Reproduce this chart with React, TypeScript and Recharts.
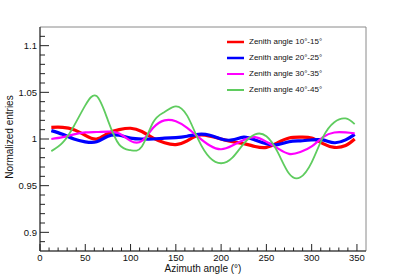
import React from 'react';
import { ComposedChart, Line, XAxis, YAxis, ReferenceArea } from 'recharts';

const azimuth = [12.5, 25, 37.5, 50, 62.5, 75, 87.5, 100, 112.5, 125, 137.5, 150, 162.5, 175, 187.5, 200, 212.5, 225, 237.5, 250, 262.5, 275, 287.5, 300, 312.5, 325, 337.5, 347.5];
const zen10 = [1.0125, 1.0125, 1.010, 1.004, 1.000, 1.006, 1.010, 1.0115, 1.008, 1.001, 0.996, 0.994, 0.998, 1.004, 1.003, 1.0, 0.997, 0.995, 0.992, 0.991, 0.996, 1.001, 1.002, 1.001, 0.995, 0.991, 0.993, 1.0];
const zen20 = [1.009, 1.005, 1.0, 0.997, 0.997, 1.003, 1.004, 1.001, 1.0, 1.0, 1.001, 1.0015, 1.003, 1.005, 1.004, 1.0, 0.999, 1.002, 0.999, 0.995, 0.994, 0.997, 0.998, 0.999, 0.999, 0.996, 0.999, 1.005];
const zen30 = [1.0, 1.002, 1.005, 1.007, 1.0075, 1.008, 1.006, 0.998, 0.998, 1.012, 1.020, 1.019, 1.012, 1.002, 0.993, 0.989, 0.993, 0.999, 1.002, 0.997, 0.990, 0.984, 0.986, 0.992, 1.002, 1.007, 1.007, 1.006];
const zen40 = [0.987, 0.996, 1.014, 1.036, 1.046, 1.020, 0.994, 0.988, 0.992, 1.018, 1.029, 1.035, 1.025, 0.999, 0.980, 0.974, 0.980, 0.995, 1.005, 1.003, 0.986, 0.963, 0.959, 0.975, 1.002, 1.018, 1.022, 1.016];

const seriesNames = ['Zenith angle 10°-15°', 'Zenith angle 20°-25°', 'Zenith angle 30°-35°', 'Zenith angle 40°-45°'];
const seriesColors = ['#ff0000', '#0000ff', '#ff00ff', '#5fcc5f'];
const seriesWidths = [3.2, 3.2, 2.2, 1.8];

const xTicks = [0, 10, 20, 30, 40, 50, 60, 70, 80, 90, 100, 110, 120, 130, 140, 150, 160, 170, 180, 190, 200, 210, 220, 230, 240, 250, 260, 270, 280, 290, 300, 310, 320, 330, 340, 350, 360];
const yTicks = [0.88, 0.89, 0.9, 0.91, 0.92, 0.93, 0.94, 0.95, 0.96, 0.97, 0.98, 0.99, 1.0, 1.01, 1.02, 1.03, 1.04, 1.05, 1.06, 1.07, 1.08, 1.09, 1.1, 1.11, 1.12];

const data = azimuth.map((a, i) => ({ a, s0: zen10[i], s1: zen20[i], s2: zen30[i], s3: zen40[i] }));
const keys = ['s0', 's1', 's2', 's3'];

const FONT = '"Liberation Sans", Arial, Helvetica, sans-serif';

const isMajorY = (v: number) => Math.abs(v * 20 - Math.round(v * 20)) < 1e-6;
const isMajorX = (v: number) => v % 50 === 0;

const YTick = (props: any) => {
  const { x, y, payload } = props;
  const v = payload.value;
  const major = isMajorY(v);
  if (v <= 0.8801 || v >= 1.1199) return null;
  const ax = x + 3;
  return (
    <g>
      <line x1={ax} x2={ax + (major ? 9 : 5)} y1={y} y2={y} stroke="#222" strokeWidth={1} />
      {major && (
        <text x={x} y={y} dy="0.35em" textAnchor="end" fontSize={9.5} fill="#111" fontFamily={FONT}>
          {String(Number(v.toFixed(2)))}
        </text>
      )}
    </g>
  );
};

const XTick = (props: any) => {
  const { x, y, payload } = props;
  const v = payload.value;
  const major = isMajorX(v);
  if (v >= 360) return null;
  const ay = y - 3;
  return (
    <g>
      <line x1={x} x2={x} y1={ay} y2={ay - (major ? 7 : 3.5)} stroke="#222" strokeWidth={1} />
      {major && (
        <text x={x} y={y} dy="0.75em" textAnchor="middle" fontSize={9.5} fill="#111" fontFamily={FONT}>
          {v}
        </text>
      )}
    </g>
  );
};

const LegendBox = () => (
  <div style={{ position: 'absolute', left: 227, top: 34, fontFamily: FONT, fontSize: 8, color: '#111', lineHeight: '16px' }}>
    {seriesNames.map((n, i) => (
      <div key={n} style={{ display: 'flex', alignItems: 'center', height: 16 }}>
        <svg width={17} height={6} style={{ marginRight: 5 }}>
          <line x1={0} x2={17} y1={3} y2={3} stroke={seriesColors[i]} strokeWidth={i < 2 ? 2.5 : 2} />
        </svg>
        <span>{n}</span>
      </div>
    ))}
  </div>
);

export default function App() {
  return (
    <div style={{ position: 'absolute', left: 0, top: 0, width: 407, height: 279, background: '#fff' }}>
      <ComposedChart width={407} height={279} data={data} margin={{ top: 27, right: 41, left: 0, bottom: 0 }}>
        <ReferenceArea x1={0} x2={360} y1={0.88} y2={1.12} fill="none" stroke="#8a8a8a" strokeWidth={1} ifOverflow="extendDomain" />
        <XAxis
          dataKey="a"
          type="number"
          domain={[0, 360]}
          ticks={xTicks}
          interval={0}
          height={28}
          tickSize={0}
          tickMargin={3}
          tickLine={false}
          axisLine={{ stroke: '#222' }}
          tick={<XTick />}
          label={() => (
            <text x={203} y={272} textAnchor="middle" fontSize={10} fill="#111" fontFamily={FONT}>
              Azimuth angle (°)
            </text>
          )}
        />
        <YAxis
          type="number"
          domain={[0.88, 1.12]}
          ticks={yTicks}
          interval={0}
          width={40}
          tickSize={0}
          tickMargin={3}
          tickLine={false}
          axisLine={{ stroke: '#222' }}
          tick={<YTick />}
          label={() => (
            <text x={9} y={137} transform="rotate(-90 9 137)" textAnchor="middle" dominantBaseline="central" fontSize={10} fill="#111" fontFamily={FONT}>
              Normalized entries
            </text>
          )}
        />
        {keys.map((k, i) => (
          <Line
            key={k}
            dataKey={k}
            name={seriesNames[i]}
            type="natural"
            stroke={seriesColors[i]}
            strokeWidth={seriesWidths[i]}
            dot={false}
            activeDot={false}
            isAnimationActive={false}
          />
        ))}
      </ComposedChart>
      <LegendBox />
    </div>
  );
}
